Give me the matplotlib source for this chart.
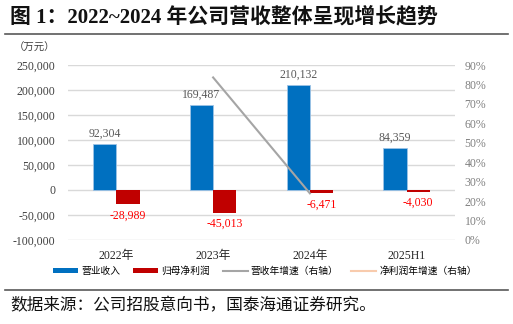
import matplotlib
matplotlib.use('Agg')
import matplotlib.pyplot as plt
from matplotlib.patches import Patch
from matplotlib.lines import Line2D
import numpy as np

plt.rcParams['font.family'] = ['Liberation Serif', 'Noto Sans CJK SC']
plt.rcParams['axes.unicode_minus'] = False

# data (万元)
years = ['2022年', '2023年', '2024年', '2025H1']
revenue = [92304, 169487, 210132, 84359]
net_profit = [-28989, -45013, -6471, -4030]
rev_growth = [np.nan, 83.6, 24.0, np.nan]  # %
np_growth = [np.nan, np.nan, np.nan, np.nan]  # %, no valid values

BLUE = '#0070C0'
RED = '#C00000'
GREY = '#A5A5A5'
PINK = '#F8CBAD'

fig = plt.figure(figsize=(5.13, 3.24), dpi=100)
ax = fig.add_axes([68 / 513, 1 - 240 / 324, 387 / 513, 175 / 324])
ax2 = ax.twinx()

x = np.arange(len(years))
w = 0.24
ax.bar(x - w / 2, revenue, w, color=BLUE, edgecolor='#9DC3E6', linewidth=0.6, zorder=3)
ax.bar(x + w / 2, net_profit, w, color=RED, zorder=3)

for xi, v in zip(x, revenue):
    ax.text(xi - w / 2, v + 9000, f'{v:,}', ha='center', va='bottom',
            fontsize=8.5, color='#595959')
for xi, v in zip(x, net_profit):
    ax.text(xi + w / 2, v - 10000, f'{v:,}', ha='center', va='top',
            fontsize=8.5, color='#FF0000')

ax.set_xlim(-0.5, len(years) - 0.5)
ax.set_ylim(-100000, 250000)
ax.set_yticks(range(-100000, 250001, 50000))
ax.set_yticklabels([f'{t:,}' for t in range(-100000, 250001, 50000)])
ax.grid(axis='y', color='#D9D9D9', linewidth=1, zorder=0)
ax.set_axisbelow(True)
ax.set_xticks(x)
ax.set_xticklabels(years)
ax.tick_params(axis='x', length=0, pad=7, labelsize=8.5, labelcolor='#262626')
ax.tick_params(axis='y', length=0, pad=9, labelsize=8.5, labelcolor='#404040')
for s in ax.spines.values():
    s.set_visible(False)

ax2.plot(x, rev_growth, color=GREY, linewidth=1.5, zorder=4)
ax2.plot(x, np_growth, color=PINK, linewidth=1.5, zorder=4)
ax2.set_ylim(0, 90)
ax2.set_yticks(range(0, 91, 10))
ax2.set_yticklabels([f'{t}%' for t in range(0, 91, 10)])
ax2.tick_params(axis='y', length=0, pad=7, labelsize=8.5, labelcolor='#808080')
for s in ax2.spines.values():
    s.set_visible(False)

handles = [
    Patch(facecolor=BLUE),
    Patch(facecolor=RED),
    Line2D([], [], color=GREY, linewidth=1.5),
    Line2D([], [], color=PINK, linewidth=1.5),
]
labels = ['营业收入', '归母净利润', '营收年增速（右轴）', '净利润年增速（右轴）']
fig.legend(handles, labels, loc='center', bbox_to_anchor=(265 / 513, 1 - 271 / 324),
           ncol=4, frameon=False, fontsize=7, handlelength=2.6, handleheight=0.45,
           handletextpad=0.3, columnspacing=1.3)

# header and footer
fig.text(10 / 513, 1 - 17 / 324, '图 1：2022~2024 年公司营收整体呈现增长趋势',
         fontsize=15, fontweight='bold', va='center', ha='left', color='#111111')
fig.add_artist(Line2D([5 / 513, 508 / 513], [1 - 34 / 324, 1 - 34 / 324],
                      color='#595959', linewidth=1.2))
fig.text(14 / 513, 1 - 48 / 324, '（万元）', fontsize=7.5, va='center', ha='left',
         color='#404040')
fig.add_artist(Line2D([5 / 513, 508 / 513], [1 - 290 / 324, 1 - 290 / 324],
                      color='#595959', linewidth=1.2))
fig.text(10 / 513, 1 - 306 / 324, '数据来源：公司招股意向书，国泰海通证券研究。',
         fontsize=12, va='center', ha='left', color='#111111')

fig.savefig('out.png', dpi=100)
